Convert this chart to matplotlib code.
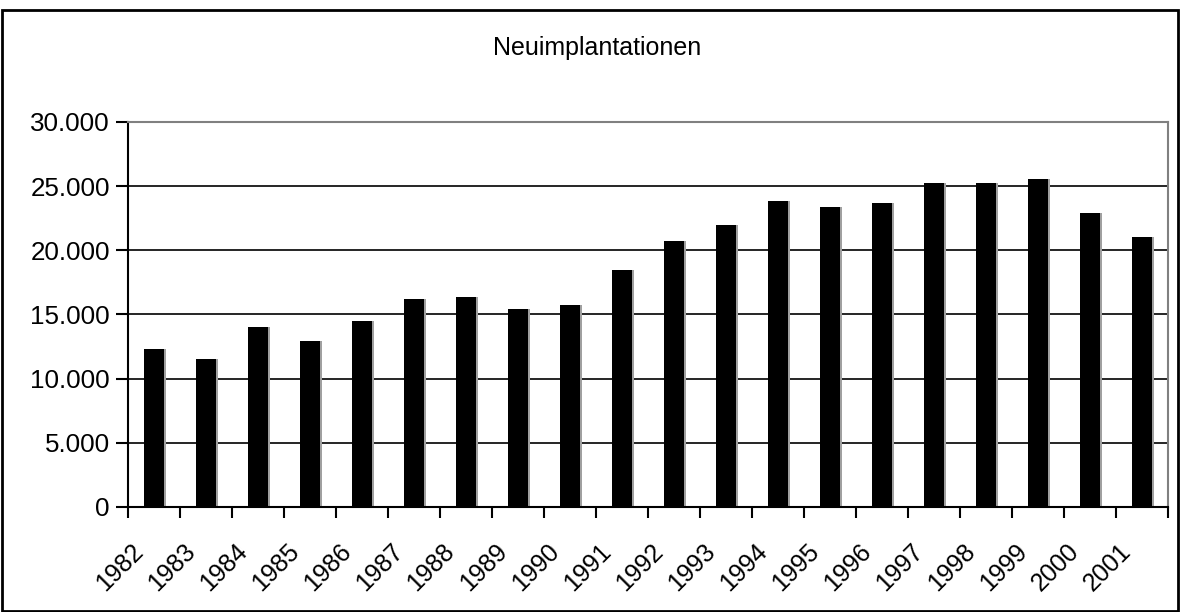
import matplotlib
matplotlib.use("Agg")
import matplotlib.pyplot as plt
import matplotlib.ticker as mticker
import numpy as np
from matplotlib.patches import Rectangle

plt.rcParams['font.family'] = ['Liberation Sans', 'DejaVu Sans']

years = ['1982', '1983', '1984', '1985', '1986', '1987', '1988', '1989', '1990', '1991',
         '1992', '1993', '1994', '1995', '1996', '1997', '1998', '1999', '2000', '2001']
values = [12300, 11500, 14000, 12900, 14500, 16200, 16350, 15400, 15700, 18500,
          20700, 22000, 23850, 23400, 23700, 25250, 25250, 25550, 22900, 21050]

fig = plt.figure(figsize=(11.8, 6.12), dpi=100)
ax = fig.add_axes([0.1085, 0.1716, 0.8813, 0.6291])

x = np.arange(len(years))
ax.bar(x + 0.03, values, width=0.4, color='#a0a0a0', zorder=2)
ax.bar(x, values, width=0.4, color='black', zorder=3)

ax.set_xlim(-0.5, len(years) - 0.5)
ax.set_ylim(0, 30000)
ax.yaxis.set_major_locator(mticker.MultipleLocator(5000))
ax.yaxis.set_major_formatter(mticker.FuncFormatter(lambda v, p: f"{int(v):,}".replace(',', '.')))
ax.grid(axis='y', color='black', linewidth=1.2, zorder=1)

# ticks at category boundaries, labels shifted left of the bar centres
ax.set_xticks(np.arange(len(years) + 1) - 0.5)
ax.set_xticklabels([])
ax.set_xticks(x - 0.45, minor=True)
ax.set_xticklabels(years, minor=True, rotation=45, ha='right', va='top',
                   rotation_mode='anchor', fontsize=18)
ax.tick_params(axis='x', which='minor', length=0, pad=23)
ax.tick_params(axis='x', which='major', length=8, width=1.5, direction='out')
ax.tick_params(axis='y', length=9, width=1.5, labelsize=18.7, pad=4)

ax.spines['left'].set_linewidth(1.5)
ax.spines['bottom'].set_linewidth(1.5)
ax.spines['bottom'].set_zorder(4)
ax.spines['top'].set_color('#808080')
ax.spines['right'].set_color('#808080')
ax.spines['top'].set_linewidth(1.5)
ax.spines['right'].set_linewidth(1.5)

fig.text(0.506, 0.922, 'Neuimplantationen', ha='center', va='center', fontsize=18)

fig.patches.append(Rectangle((0.002, 0.002), 0.996, 0.982, transform=fig.transFigure,
                             fill=False, edgecolor='black', linewidth=2))

fig.savefig('out.png', dpi=100)
